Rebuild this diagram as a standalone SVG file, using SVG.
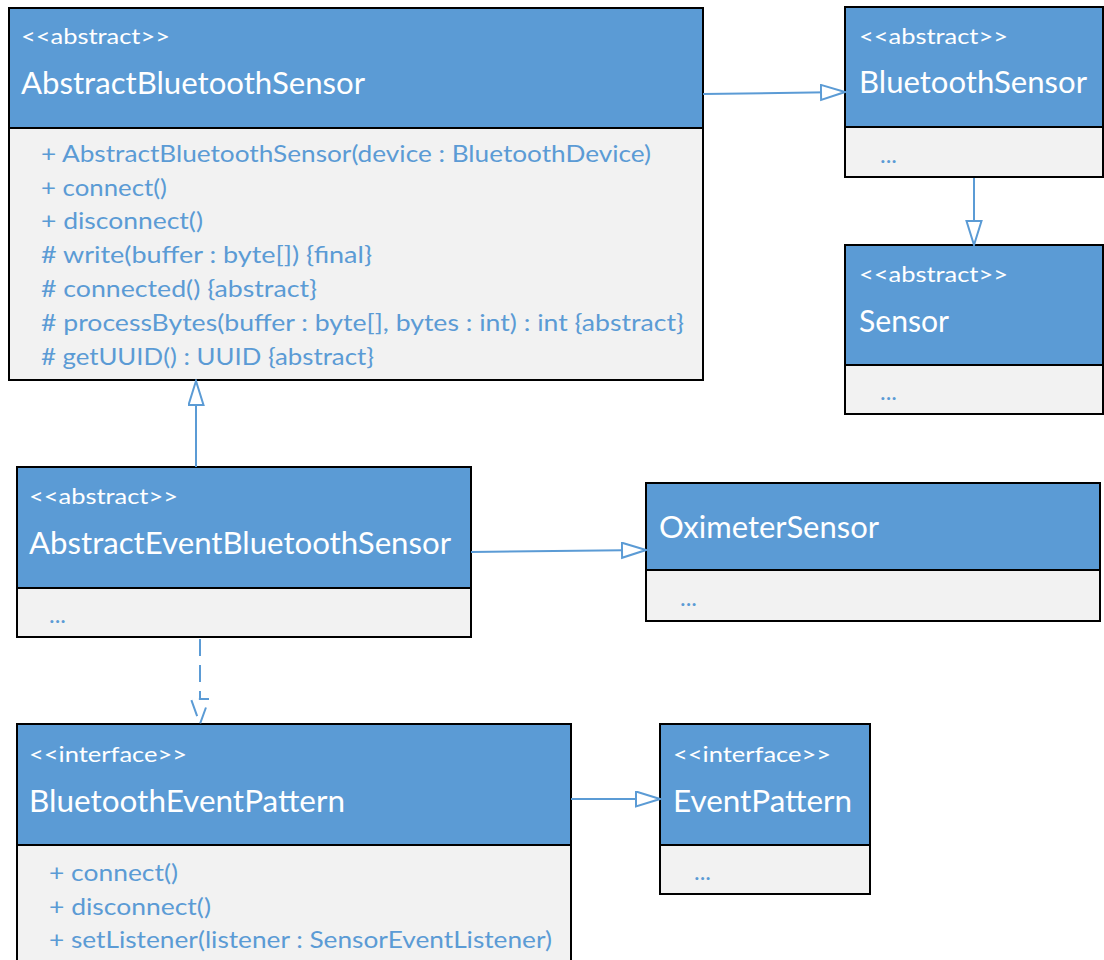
<svg xmlns="http://www.w3.org/2000/svg" width="1104" height="960" viewBox="0 0 1104 960">
  <style>
    .head { fill: #5B9BD5; stroke: #000; stroke-width: 2; }
    .body { fill: #F2F2F2; stroke: #000; stroke-width: 2; }
    .stereo { font-family: Lato, "Liberation Sans", sans-serif; font-size: 21px; fill: #FFFFFF; }
    .name { font-family: Lato, "Liberation Sans", sans-serif; font-size: 30px; fill: #FFFFFF; }
    .member { font-family: Lato, "Liberation Sans", sans-serif; font-size: 24px; fill: #5B9BD5; }
    .edge { fill: none; stroke: #5B9BD5; stroke-width: 2; }
    .dashed { fill: none; stroke: #5B9BD5; stroke-width: 2; stroke-dasharray: 17 9; stroke-dashoffset: 25; }
  </style>
  <defs>
    <!-- hollow triangle head for generalization -->
    <marker id="gen" markerWidth="27" markerHeight="18" refX="25" refY="8.5" orient="auto" markerUnits="userSpaceOnUse">
      <path d="M1,1 L25,8.5 L1,16 Z" fill="#FFFFFF" stroke="#5B9BD5" stroke-width="2"/>
    </marker>
  </defs>

  <rect width="1104" height="960" fill="#FFFFFF"/>

  <g id="AbstractBluetoothSensor">
    <rect class="body" x="9" y="8" width="694" height="372"/>
    <rect class="head" x="9" y="8" width="694" height="120"/>
    <text class="stereo" x="21" y="44" textLength="149" lengthAdjust="spacingAndGlyphs">&lt;&lt;abstract&gt;&gt;</text>
    <text class="name" x="21" y="94" textLength="344" lengthAdjust="spacingAndGlyphs">AbstractBluetoothSensor</text>
    <text class="member" x="41" y="162" textLength="610" lengthAdjust="spacingAndGlyphs">+ AbstractBluetoothSensor(device : BluetoothDevice)</text>
    <text class="member" x="41" y="196" textLength="126" lengthAdjust="spacingAndGlyphs">+ connect()</text>
    <text class="member" x="41" y="229" textLength="162" lengthAdjust="spacingAndGlyphs">+ disconnect()</text>
    <text class="member" x="41" y="263" textLength="331" lengthAdjust="spacingAndGlyphs"># write(buffer : byte[]) {final}</text>
    <text class="member" x="41" y="297" textLength="276" lengthAdjust="spacingAndGlyphs"># connected() {abstract}</text>
    <text class="member" x="41" y="331" textLength="643" lengthAdjust="spacingAndGlyphs"># processBytes(buffer : byte[], bytes : int) : int {abstract}</text>
    <text class="member" x="41" y="365" textLength="333" lengthAdjust="spacingAndGlyphs"># getUUID() : UUID {abstract}</text>
  </g>

  <g id="BluetoothSensor">
    <rect class="body" x="845" y="7" width="258" height="170"/>
    <rect class="head" x="845" y="7" width="258" height="120"/>
    <text class="stereo" x="859" y="44" textLength="149" lengthAdjust="spacingAndGlyphs">&lt;&lt;abstract&gt;&gt;</text>
    <text class="name" x="859" y="93" textLength="228" lengthAdjust="spacingAndGlyphs">BluetoothSensor</text>
    <text class="member" x="880" y="163">...</text>
  </g>

  <g id="Sensor">
    <rect class="body" x="845" y="245" width="258" height="169"/>
    <rect class="head" x="845" y="245" width="258" height="120"/>
    <text class="stereo" x="859" y="282" textLength="149" lengthAdjust="spacingAndGlyphs">&lt;&lt;abstract&gt;&gt;</text>
    <text class="name" x="859" y="332" textLength="90" lengthAdjust="spacingAndGlyphs">Sensor</text>
    <text class="member" x="880" y="400">...</text>
  </g>

  <g id="AbstractEventBluetoothSensor">
    <rect class="body" x="17" y="467" width="454" height="170"/>
    <rect class="head" x="17" y="467" width="454" height="121"/>
    <text class="stereo" x="29" y="504" textLength="149" lengthAdjust="spacingAndGlyphs">&lt;&lt;abstract&gt;&gt;</text>
    <text class="name" x="29" y="554" textLength="422" lengthAdjust="spacingAndGlyphs">AbstractEventBluetoothSensor</text>
    <text class="member" x="49" y="623">...</text>
  </g>

  <g id="OximeterSensor">
    <rect class="body" x="646" y="483" width="454" height="138"/>
    <rect class="head" x="646" y="483" width="454" height="87"/>
    <text class="name" x="659" y="538" textLength="220" lengthAdjust="spacingAndGlyphs">OximeterSensor</text>
    <text class="member" x="680" y="606">...</text>
  </g>

  <g id="BluetoothEventPattern">
    <rect class="body" x="17" y="724" width="554" height="250"/>
    <rect class="head" x="17" y="724" width="554" height="121"/>
    <text class="stereo" x="29" y="762" textLength="158" lengthAdjust="spacingAndGlyphs">&lt;&lt;interface&gt;&gt;</text>
    <text class="name" x="29" y="812" textLength="316" lengthAdjust="spacingAndGlyphs">BluetoothEventPattern</text>
    <text class="member" x="49" y="881" textLength="129" lengthAdjust="spacingAndGlyphs">+ connect()</text>
    <text class="member" x="49" y="915" textLength="162" lengthAdjust="spacingAndGlyphs">+ disconnect()</text>
    <text class="member" x="49" y="948" textLength="503" lengthAdjust="spacingAndGlyphs">+ setListener(listener : SensorEventListener)</text>
  </g>

  <g id="EventPattern">
    <rect class="body" x="660" y="724" width="210" height="170"/>
    <rect class="head" x="660" y="724" width="210" height="121"/>
    <text class="stereo" x="673" y="762" textLength="158" lengthAdjust="spacingAndGlyphs">&lt;&lt;interface&gt;&gt;</text>
    <text class="name" x="673" y="812" textLength="179" lengthAdjust="spacingAndGlyphs">EventPattern</text>
    <text class="member" x="694" y="880">...</text>
  </g>

  <g id="connectors">
    <path class="edge" d="M703,94 L845,92" marker-end="url(#gen)"/>
    <path class="edge" d="M974,178 L974,245" marker-end="url(#gen)"/>
    <path class="edge" d="M196,467 L196,381" marker-end="url(#gen)"/>
    <path class="edge" d="M471,552 L646,550" marker-end="url(#gen)"/>
    <path class="edge" d="M571,799 L660,799" marker-end="url(#gen)"/>
    <!-- realization: dashed line with a dashed hollow head -->
    <path class="dashed" d="M200,638 V699 H209 L200,724 L191,699 H200"/>
  </g>
</svg>
